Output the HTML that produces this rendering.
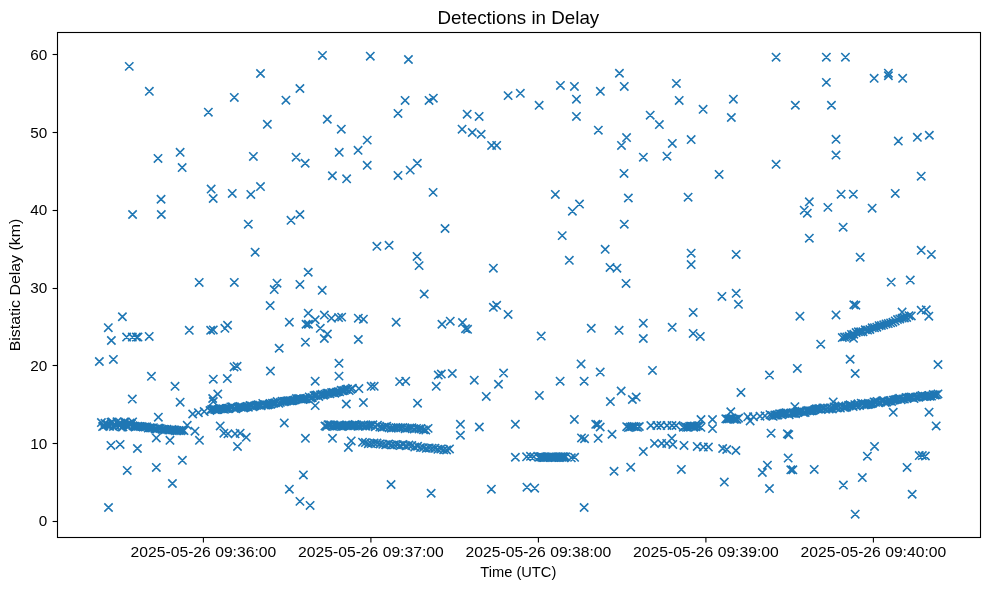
<!DOCTYPE html>
<html><head><meta charset="utf-8"><style>
html,body{margin:0;padding:0;background:#fff;}
svg{display:block;}
text{font-family:"Liberation Sans",sans-serif;fill:#000;}
.tx{will-change:transform;}
</style></head><body>
<svg width="989" height="590" viewBox="0 0 989 590">
<rect x="0" y="0" width="989" height="590" fill="#fff"/>
<path d="M125.09 62.20L133.43 70.54M125.09 70.54L133.43 62.20M145.18 87.12L153.52 95.46M145.18 95.46L153.52 87.12M256.32 69.32L264.66 77.66M256.32 77.66L264.66 69.32M230.13 93.23L238.47 101.57M230.13 101.57L238.47 93.23M204.19 107.98L212.53 116.32M204.19 116.32L212.53 107.98M281.76 96.02L290.10 104.36M281.76 104.36L290.10 96.02M295.74 84.32L304.08 92.66M295.74 92.66L304.08 84.32M263.19 120.18L271.53 128.52M263.19 128.52L271.53 120.18M153.83 154.26L162.17 162.60M153.83 162.60L162.17 154.26M175.96 148.16L184.30 156.50M175.96 156.50L184.30 148.16M177.99 163.42L186.33 171.76M177.99 171.76L186.33 163.42M249.20 152.23L257.54 160.57M249.20 160.57L257.54 152.23M291.93 152.99L300.27 161.33M291.93 161.33L300.27 152.99M318.30 51.26L326.64 59.60M318.30 59.60L326.64 51.26M366.11 52.03L374.45 60.37M366.11 60.37L374.45 52.03M404.26 55.33L412.60 63.67M404.26 63.67L412.60 55.33M400.95 96.28L409.29 104.62M400.95 104.62L409.29 96.28M424.86 96.28L433.20 104.62M424.86 104.62L433.20 96.28M429.18 93.99L437.52 102.33M429.18 102.33L437.52 93.99M393.83 109.25L402.17 117.59M393.83 117.59L402.17 109.25M323.13 115.10L331.47 123.44M323.13 123.44L331.47 115.10M337.12 125.02L345.46 133.36M337.12 133.36L345.46 125.02M363.06 135.95L371.40 144.29M363.06 144.29L371.40 135.95M353.90 146.13L362.24 154.47M353.90 154.47L362.24 146.13M335.08 148.16L343.42 156.50M335.08 156.50L343.42 148.16M301.00 159.10L309.34 167.44M301.00 167.44L309.34 159.10M363.06 161.13L371.40 169.47M363.06 169.47L371.40 161.13M328.22 171.56L336.56 179.90M328.22 179.90L336.56 171.56M342.46 174.61L350.80 182.95M342.46 182.95L350.80 174.61M393.83 171.30L402.17 179.64M393.83 179.64L402.17 171.30M406.04 165.96L414.38 174.30M406.04 174.30L414.38 165.96M413.16 159.10L421.50 167.44M413.16 167.44L421.50 159.10M503.95 91.45L512.29 99.79M503.95 99.79L512.29 91.45M516.16 89.16L524.50 97.50M516.16 97.50L524.50 89.16M534.98 101.11L543.32 109.45M534.98 109.45L543.32 101.11M463.01 110.01L471.35 118.35M463.01 118.35L471.35 110.01M474.96 112.30L483.30 120.64M474.96 120.64L483.30 112.30M457.92 125.02L466.26 133.36M457.92 133.36L466.26 125.02M468.09 128.32L476.43 136.66M468.09 136.66L476.43 128.32M476.99 130.10L485.33 138.44M476.99 138.44L485.33 130.10M487.42 141.29L495.76 149.63M487.42 149.63L495.76 141.29M492.51 141.29L500.85 149.63M492.51 149.63L500.85 141.29M556.26 81.27L564.60 89.61M556.26 89.61L564.60 81.27M570.25 82.29L578.59 90.63M570.25 90.63L578.59 82.29M572.28 95.01L580.62 103.35M572.28 103.35L580.62 95.01M572.28 112.30L580.62 120.64M572.28 120.64L580.62 112.30M596.19 87.12L604.53 95.46M596.19 95.46L604.53 87.12M615.27 69.06L623.61 77.40M615.27 77.40L623.61 69.06M620.10 82.29L628.44 90.63M620.10 90.63L628.44 82.29M594.16 126.03L602.50 134.37M594.16 134.37L602.50 126.03M622.39 133.41L630.73 141.75M622.39 141.75L630.73 133.41M617.30 141.29L625.64 149.63M617.30 149.63L625.64 141.29M639.17 152.99L647.51 161.33M639.17 161.33L647.51 152.99M619.84 169.27L628.18 177.61M619.84 177.61L628.18 169.27M646.04 111.03L654.38 119.37M646.04 119.37L654.38 111.03M655.19 120.44L663.53 128.78M655.19 128.78L663.53 120.44M672.23 79.24L680.57 87.58M672.23 87.58L680.57 79.24M675.03 96.28L683.37 104.62M675.03 104.62L683.37 96.28M668.16 139.26L676.50 147.60M668.16 147.60L676.50 139.26M662.82 151.97L671.16 160.31M662.82 160.31L671.16 151.97M686.98 135.44L695.32 143.78M686.98 143.78L695.32 135.44M698.94 105.18L707.28 113.52M698.94 113.52L707.28 105.18M729.20 95.01L737.54 103.35M729.20 103.35L737.54 95.01M727.17 113.32L735.51 121.66M727.17 121.66L735.51 113.32M714.96 170.29L723.30 178.63M714.96 178.63L723.30 170.29M771.93 53.04L780.27 61.38M771.93 61.38L780.27 53.04M771.93 160.11L780.27 168.45M771.93 168.45L780.27 160.11M822.19 53.04L830.53 61.38M822.19 61.38L830.53 53.04M841.26 53.04L849.60 61.38M841.26 61.38L849.60 53.04M822.19 78.21L830.53 86.55M822.19 86.55L830.53 78.21M791.17 101.09L799.51 109.43M791.17 109.43L799.51 101.09M827.28 101.09L835.62 109.43M827.28 109.43L835.62 101.09M869.99 74.14L878.33 82.48M869.99 82.48L878.33 74.14M884.23 69.05L892.57 77.39M884.23 77.39L892.57 69.05M884.23 71.60L892.57 79.94M884.23 79.94L892.57 71.60M898.47 74.14L906.81 82.48M898.47 82.48L906.81 74.14M831.85 135.16L840.19 143.50M831.85 143.50L840.19 135.16M831.85 150.93L840.19 159.27M831.85 159.27L840.19 150.93M894.15 136.94L902.49 145.28M894.15 145.28L902.49 136.94M913.21 133.13L921.55 141.47M913.21 141.47L921.55 133.13M925.17 131.09L933.51 139.43M925.17 139.43L933.51 131.09M917.03 172.03L925.37 180.37M917.03 180.37L925.37 172.03M156.88 195.08L165.22 203.42M156.88 203.42L165.22 195.08M128.40 210.34L136.74 218.68M128.40 218.68L136.74 210.34M157.14 210.34L165.48 218.68M157.14 218.68L165.48 210.34M206.98 184.90L215.32 193.24M206.98 193.24L215.32 184.90M209.02 194.31L217.36 202.65M209.02 202.65L217.36 194.31M228.09 189.23L236.43 197.57M228.09 197.57L236.43 189.23M246.66 190.25L255.00 198.59M246.66 198.59L255.00 190.25M256.32 182.36L264.66 190.70M256.32 190.70L264.66 182.36M244.12 220.00L252.46 228.34M244.12 228.34L252.46 220.00M286.84 216.19L295.18 224.53M286.84 224.53L295.18 216.19M295.74 210.34L304.08 218.68M295.74 218.68L304.08 210.34M250.98 247.98L259.32 256.32M250.98 256.32L259.32 247.98M195.03 278.24L203.37 286.58M195.03 286.58L203.37 278.24M230.13 278.24L238.47 286.58M230.13 286.58L238.47 278.24M272.85 279.00L281.19 287.34M272.85 287.34L281.19 279.00M270.06 285.36L278.40 293.70M270.06 293.70L278.40 285.36M295.74 280.28L304.08 288.62M295.74 288.62L304.08 280.28M265.99 301.38L274.33 309.72M265.99 309.72L274.33 301.38M118.23 312.57L126.57 320.91M118.23 320.91L126.57 312.57M428.93 188.21L437.27 196.55M428.93 196.55L437.27 188.21M440.88 224.32L449.22 232.66M440.88 232.66L449.22 224.32M372.72 242.13L381.06 250.47M372.72 250.47L381.06 242.13M384.93 241.11L393.27 249.45M384.93 249.45L393.27 241.11M412.91 252.30L421.25 260.64M412.91 260.64L421.25 252.30M414.94 261.46L423.28 269.80M414.94 269.80L423.28 261.46M489.20 264.00L497.54 272.34M489.20 272.34L497.54 264.00M304.05 268.07L312.39 276.41M304.05 276.41L312.39 268.07M318.04 286.13L326.38 294.47M318.04 294.47L326.38 286.13M420.03 289.94L428.37 298.28M420.03 298.28L428.37 289.94M489.20 303.16L497.54 311.50M489.20 311.50L497.54 303.16M492.51 301.13L500.85 309.47M492.51 309.47L500.85 301.13M503.95 310.29L512.29 318.63M503.95 318.63L512.29 310.29M304.05 309.01L312.39 317.35M304.05 317.35L312.39 309.01M551.18 190.25L559.52 198.59M551.18 198.59L559.52 190.25M575.34 199.91L583.68 208.25M575.34 208.25L583.68 199.91M568.22 207.03L576.56 215.37M568.22 215.37L576.56 207.03M624.17 193.81L632.51 202.15M624.17 202.15L632.51 193.81M683.93 193.04L692.27 201.38M683.93 201.38L692.27 193.04M620.10 220.00L628.44 228.34M620.10 228.34L628.44 220.00M558.04 231.45L566.38 239.79M558.04 239.79L566.38 231.45M601.02 245.18L609.36 253.52M601.02 253.52L609.36 245.18M565.16 256.11L573.50 264.45M565.16 264.45L573.50 256.11M605.86 263.24L614.20 271.58M605.86 271.58L614.20 263.24M612.72 264.00L621.06 272.34M612.72 272.34L621.06 264.00M621.88 279.26L630.22 287.60M621.88 287.60L630.22 279.26M686.98 248.99L695.32 257.33M686.98 257.33L695.32 248.99M686.98 260.44L695.32 268.78M686.98 268.78L695.32 260.44M732.00 250.27L740.34 258.61M732.00 258.61L740.34 250.27M717.76 292.23L726.10 300.57M717.76 300.57L726.10 292.23M732.00 289.18L740.34 297.52M732.00 297.52L740.34 289.18M734.29 300.11L742.63 308.45M734.29 308.45L742.63 300.11M689.02 308.25L697.36 316.59M689.02 316.59L697.36 308.25M805.15 197.61L813.49 205.95M805.15 205.95L813.49 197.61M800.07 206.00L808.41 214.34M800.07 214.34L808.41 206.00M803.12 209.05L811.46 217.39M803.12 217.39L811.46 209.05M823.72 203.21L832.06 211.55M823.72 211.55L832.06 203.21M836.94 189.98L845.28 198.32M836.94 198.32L845.28 189.98M849.14 189.98L857.48 198.32M849.14 198.32L857.48 189.98M891.09 189.22L899.43 197.56M891.09 197.56L899.43 189.22M867.96 203.97L876.30 212.31M867.96 212.31L876.30 203.97M838.97 223.04L847.31 231.38M838.97 231.38L847.31 223.04M805.15 233.97L813.49 242.31M805.15 242.31L813.49 233.97M856.01 253.04L864.35 261.38M856.01 261.38L864.35 253.04M917.03 246.18L925.37 254.52M917.03 254.52L925.37 246.18M927.20 250.24L935.54 258.58M927.20 258.58L935.54 250.24M887.03 277.96L895.37 286.30M887.03 286.30L895.37 277.96M906.10 275.92L914.44 284.26M906.10 284.26L914.44 275.92M849.65 300.59L857.99 308.93M849.65 308.93L857.99 300.59M851.68 301.10L860.02 309.44M851.68 309.44L860.02 301.10M795.75 312.03L804.09 320.37M795.75 320.37L804.09 312.03M831.85 310.76L840.19 319.10M831.85 319.10L840.19 310.76M917.03 306.18L925.37 314.52M917.03 314.52L925.37 306.18M922.11 305.67L930.45 314.01M922.11 314.01L930.45 305.67M924.66 312.03L933.00 320.37M924.66 320.37L933.00 312.03M104.14 323.53L112.48 331.87M104.14 331.87L112.48 323.53M107.19 336.35L115.53 344.69M107.19 344.69L115.53 336.35M122.45 332.89L130.79 341.23M122.45 341.23L130.79 332.89M128.14 332.89L136.48 341.23M128.14 341.23L136.48 332.89M132.21 332.89L140.55 341.23M132.21 341.23L140.55 332.89M133.84 332.89L142.18 341.23M133.84 341.23L142.18 332.89M145.03 332.28L153.37 340.62M145.03 340.62L153.37 332.28M95.18 357.31L103.52 365.65M95.18 365.65L103.52 357.31M109.22 355.27L117.56 363.61M109.22 363.61L117.56 355.27M185.11 326.18L193.45 334.52M185.11 334.52L193.45 326.18M206.48 326.18L214.82 334.52M206.48 334.52L214.82 326.18M209.12 325.77L217.46 334.11M209.12 334.11L217.46 325.77M220.72 324.14L229.06 332.48M220.72 332.48L229.06 324.14M223.36 321.09L231.70 329.43M223.36 329.43L231.70 321.09M147.27 372.16L155.61 380.50M147.27 380.50L155.61 372.16M128.14 394.94L136.48 403.28M128.14 403.28L136.48 394.94M170.87 382.13L179.21 390.47M170.87 390.47L179.21 382.13M175.96 398.00L184.30 406.34M175.96 406.34L184.30 398.00M154.19 413.05L162.53 421.39M154.19 421.39L162.53 413.05M209.12 375.01L217.46 383.35M209.12 383.35L217.46 375.01M223.16 374.40L231.50 382.74M223.16 382.74L231.50 374.40M229.87 362.80L238.21 371.14M229.87 371.14L238.21 362.80M232.93 362.19L241.27 370.53M232.93 370.53L241.27 362.19M213.60 389.86L221.94 398.20M213.60 398.20L221.94 389.86M208.51 394.33L216.85 402.67M208.51 402.67L216.85 394.33M209.12 397.39L217.46 405.73M209.12 405.73L217.46 397.39M183.08 421.19L191.42 429.53M183.08 429.53L191.42 421.19M216.04 421.80L224.38 430.14M216.04 430.14L224.38 421.80M106.78 441.26L115.12 449.60M106.78 449.60L115.12 441.26M115.94 440.25L124.28 448.59M115.94 448.59L124.28 440.25M133.23 444.31L141.57 452.65M133.23 452.65L141.57 444.31M123.06 466.29L131.40 474.63M123.06 474.63L131.40 466.29M152.15 463.24L160.49 471.58M152.15 471.58L160.49 463.24M152.15 433.73L160.49 442.07M152.15 442.07L160.49 433.73M165.78 436.18L174.12 444.52M165.78 444.52L174.12 436.18M178.20 456.11L186.54 464.45M178.20 464.45L186.54 456.11M168.23 479.31L176.57 487.65M168.23 487.65L176.57 479.31M104.34 503.32L112.68 511.66M104.34 511.66L112.68 503.32M190.81 427.02L199.15 435.36M190.81 435.36L199.15 427.02M195.29 436.18L203.63 444.52M195.29 444.52L203.63 436.18M219.70 429.05L228.04 437.39M219.70 437.39L228.04 429.05M223.77 429.67L232.11 438.01M223.77 438.01L232.11 429.67M230.89 429.67L239.23 438.01M230.89 438.01L239.23 429.67M235.98 429.05L244.32 437.39M235.98 437.39L244.32 429.05M242.08 433.12L250.42 441.46M242.08 441.46L250.42 433.12M233.33 442.28L241.67 450.62M233.33 450.62L241.67 442.28M285.18 318.04L293.52 326.38M285.18 326.38L293.52 318.04M301.87 320.07L310.21 328.41M301.87 328.41L310.21 320.07M304.31 320.07L312.65 328.41M304.31 328.41L312.65 320.07M311.02 315.60L319.36 323.94M311.02 323.94L319.36 315.60M320.18 310.92L328.52 319.26M320.18 319.26L328.52 310.92M327.30 313.97L335.64 322.31M327.30 322.31L335.64 313.97M334.42 313.36L342.76 321.70M334.42 321.70L342.76 313.36M337.47 312.95L345.81 321.29M337.47 321.29L345.81 312.95M316.11 324.14L324.45 332.48M316.11 332.48L324.45 324.14M323.23 329.84L331.57 338.18M323.23 338.18L331.57 329.84M320.18 334.31L328.52 342.65M320.18 342.65L328.52 334.31M301.26 337.98L309.60 346.32M301.26 346.32L309.60 337.98M275.01 344.08L283.35 352.42M275.01 352.42L283.35 344.08M354.16 313.97L362.50 322.31M354.16 322.31L362.50 313.97M359.24 314.99L367.58 323.33M359.24 323.33L367.58 314.99M354.16 335.33L362.50 343.67M354.16 343.67L362.50 335.33M392.00 318.04L400.34 326.38M392.00 326.38L400.34 318.04M437.78 320.07L446.12 328.41M437.78 328.41L446.12 320.07M334.83 359.14L343.17 367.48M334.83 367.48L343.17 359.14M334.83 371.95L343.17 380.29M334.83 380.29L343.17 371.95M266.26 366.87L274.60 375.21M266.26 375.21L274.60 366.87M311.02 377.04L319.36 385.38M311.02 385.38L319.36 377.04M366.97 382.13L375.31 390.47M366.97 390.47L375.31 382.13M370.03 382.13L378.37 390.47M370.03 390.47L378.37 382.13M395.46 377.45L403.80 385.79M395.46 385.79L403.80 377.45M401.56 377.04L409.90 385.38M401.56 385.38L409.90 377.04M434.12 370.94L442.46 379.28M434.12 379.28L442.46 370.94M437.17 369.92L445.51 378.26M437.17 378.26L445.51 369.92M432.08 382.13L440.42 390.47M432.08 390.47L440.42 382.13M311.02 401.46L319.36 409.80M311.02 409.80L319.36 401.46M342.15 399.83L350.49 408.17M342.15 408.17L350.49 399.83M359.24 398.40L367.58 406.74M359.24 406.74L367.58 398.40M413.36 399.01L421.70 407.35M413.36 407.35L421.70 399.01M280.10 418.75L288.44 427.09M280.10 427.09L288.44 418.75M301.26 434.14L309.60 442.48M301.26 442.48L309.60 434.14M328.32 434.14L336.66 442.48M328.32 442.48L336.66 434.14M347.04 436.79L355.38 445.13M347.04 445.13L355.38 436.79M344.19 443.30L352.53 451.64M344.19 451.64L352.53 443.30M299.22 470.76L307.56 479.10M299.22 479.10L307.56 470.76M285.18 485.01L293.52 493.35M285.18 493.35L293.52 485.01M295.76 497.21L304.10 505.55M295.76 505.55L304.10 497.21M305.94 501.28L314.28 509.62M305.94 509.62L314.28 501.28M386.91 480.33L395.25 488.67M386.91 488.67L395.25 480.33M426.99 489.08L435.33 497.42M426.99 497.42L435.33 489.08M446.09 317.02L454.43 325.36M446.09 325.36L454.43 317.02M458.30 318.44L466.64 326.78M458.30 326.78L466.64 318.44M461.35 324.55L469.69 332.89M461.35 332.89L469.69 324.55M463.38 325.16L471.72 333.50M463.38 333.50L471.72 325.16M537.04 331.87L545.38 340.21M537.04 340.21L545.38 331.87M587.09 324.14L595.43 332.48M587.09 332.48L595.43 324.14M614.96 326.18L623.30 334.52M614.96 334.52L623.30 326.18M448.12 369.31L456.46 377.65M448.12 377.65L456.46 369.31M470.10 376.02L478.44 384.36M470.10 384.36L478.44 376.02M499.40 368.90L507.74 377.24M499.40 377.24L507.74 368.90M494.31 380.09L502.65 388.43M494.31 388.43L502.65 380.09M482.10 392.30L490.44 400.64M482.10 400.64L490.44 392.30M535.20 391.28L543.54 399.62M535.20 399.62L543.54 391.28M555.96 377.04L564.30 385.38M555.96 385.38L564.30 377.04M576.91 359.75L585.25 368.09M576.91 368.09L585.25 359.75M596.04 367.88L604.38 376.22M596.04 376.22L604.38 367.88M579.97 377.04L588.31 385.38M579.97 385.38L588.31 377.04M616.99 386.81L625.33 395.15M616.99 395.15L625.33 386.81M606.21 397.39L614.55 405.73M606.21 405.73L614.55 397.39M628.19 395.35L636.53 403.69M628.19 403.69L636.53 395.35M456.26 420.17L464.60 428.51M456.26 428.51L464.60 420.17M475.18 422.82L483.52 431.16M475.18 431.16L483.52 422.82M511.20 420.17L519.54 428.51M511.20 428.51L519.54 420.17M570.20 415.29L578.54 423.63M570.20 423.63L578.54 415.29M591.56 420.17L599.90 428.51M591.56 428.51L599.90 420.17M596.04 422.82L604.38 431.16M596.04 431.16L604.38 422.82M456.26 431.09L464.60 439.43M456.26 439.43L464.60 431.09M511.20 453.06L519.54 461.40M511.20 461.40L519.54 453.06M487.19 485.01L495.53 493.35M487.19 493.35L495.53 485.01M522.79 482.97L531.13 491.31M522.79 491.31L531.13 482.97M530.52 483.99L538.86 492.33M530.52 492.33L538.86 483.99M579.97 503.32L588.31 511.66M579.97 511.66L588.31 503.32M593.60 420.31L601.94 428.65M593.60 428.65L601.94 420.31M577.32 433.73L585.66 442.07M577.32 442.07L585.66 433.73M580.37 434.55L588.71 442.89M580.37 442.89L588.71 434.55M594.00 434.14L602.34 442.48M594.00 442.48L602.34 434.14M607.84 430.07L616.18 438.41M607.84 438.41L616.18 430.07M609.87 467.10L618.21 475.44M609.87 475.44L618.21 467.10M626.56 463.03L634.90 471.37M626.56 471.37L634.90 463.03M639.14 319.05L647.48 327.39M639.14 327.39L647.48 319.05M639.14 334.31L647.48 342.65M639.14 342.65L647.48 334.31M668.03 323.12L676.37 331.46M668.03 331.46L676.37 323.12M688.99 329.23L697.33 337.57M688.99 337.57L697.33 329.23M696.11 332.28L704.45 340.62M696.11 340.62L704.45 332.28M816.56 340.01L824.90 348.35M816.56 348.35L824.90 340.01M648.30 366.26L656.64 374.60M648.30 374.60L656.64 366.26M736.80 388.23L745.14 396.57M736.80 396.57L745.14 388.23M765.29 370.94L773.63 379.28M765.29 379.28L773.63 370.94M793.16 364.22L801.50 372.56M793.16 372.56L801.50 364.22M632.02 392.91L640.36 401.25M632.02 401.25L640.36 392.91M726.63 407.56L734.97 415.90M726.63 415.90L734.97 407.56M745.96 416.72L754.30 425.06M745.96 425.06L754.30 416.72M790.72 402.47L799.06 410.81M790.72 410.81L799.06 402.47M650.33 439.23L658.67 447.57M650.33 447.57L658.67 439.23M657.45 439.23L665.79 447.57M657.45 447.57L665.79 439.23M662.54 439.23L670.88 447.57M662.54 447.57L670.88 439.23M668.64 440.25L676.98 448.59M668.64 448.59L676.98 440.25M667.63 434.14L675.97 442.48M667.63 442.48L675.97 434.14M679.83 441.26L688.17 449.60M679.83 449.60L688.17 441.26M693.06 442.28L701.40 450.62M693.06 450.62L701.40 442.28M699.16 442.89L707.50 451.23M699.16 451.23L707.50 442.89M704.25 442.89L712.59 451.23M704.25 451.23L712.59 442.89M718.49 444.31L726.83 452.65M718.49 452.65L726.83 444.31M722.56 445.33L730.90 453.67M722.56 453.67L730.90 445.33M731.72 446.35L740.06 454.69M731.72 454.69L740.06 446.35M639.14 447.37L647.48 455.71M639.14 455.71L647.48 447.37M677.19 465.27L685.53 473.61M677.19 473.61L685.53 465.27M720.12 477.88L728.46 486.22M720.12 486.22L728.46 477.88M766.91 429.05L775.25 437.39M766.91 437.39L775.25 429.05M783.19 429.67L791.53 438.01M783.19 438.01L791.53 429.67M784.61 430.48L792.95 438.82M784.61 438.82L792.95 430.48M763.25 461.00L771.59 469.34M763.25 469.34L771.59 461.00M758.16 468.32L766.50 476.66M758.16 476.66L766.50 468.32M784.00 453.88L792.34 462.22M784.00 462.22L792.34 453.88M786.65 465.68L794.99 474.02M786.65 474.02L794.99 465.68M788.68 465.68L797.02 474.02M788.68 474.02L797.02 465.68M810.05 465.27L818.39 473.61M810.05 473.61L818.39 465.27M765.29 484.40L773.63 492.74M765.29 492.74L773.63 484.40M845.94 355.07L854.28 363.41M845.94 363.41L854.28 355.07M851.02 369.31L859.36 377.65M851.02 377.65L859.36 369.31M933.83 360.36L942.17 368.70M933.83 368.70L942.17 360.36M829.05 397.79L837.39 406.13M829.05 406.13L837.39 397.79M889.07 408.17L897.41 416.51M889.07 416.51L897.41 408.17M924.88 407.97L933.22 416.31M924.88 416.31L933.22 407.97M932.00 421.80L940.34 430.14M932.00 430.14L940.34 421.80M839.22 480.94L847.56 489.28M839.22 489.28L847.56 480.94M858.14 473.41L866.48 481.75M858.14 481.75L866.48 473.41M863.23 452.05L871.57 460.39M863.23 460.39L871.57 452.05M870.35 442.28L878.69 450.62M870.35 450.62L878.69 442.28M851.02 510.03L859.36 518.37M851.02 518.37L859.36 510.03M902.91 463.24L911.25 471.58M902.91 471.58L911.25 463.24M907.99 490.09L916.33 498.43M907.99 498.43L916.33 490.09M915.11 451.44L923.45 459.78M915.11 459.78L923.45 451.44M918.16 451.44L926.50 459.78M918.16 459.78L926.50 451.44M921.22 451.84L929.56 460.18M921.22 460.18L929.56 451.84M849.35 334.21L857.69 342.55M849.35 342.55L857.69 334.21M97.23 418.38L105.57 426.72M97.23 426.72L105.57 418.38M98.43 422.38L106.77 430.72M98.43 430.72L106.77 422.38M99.63 421.91L107.97 430.25M99.63 430.25L107.97 421.91M100.83 419.06L109.17 427.40M100.83 427.40L109.17 419.06M102.03 420.40L110.37 428.74M102.03 428.74L110.37 420.40M103.23 420.15L111.57 428.49M103.23 428.49L111.57 420.15M104.43 421.28L112.77 429.62M104.43 429.62L112.77 421.28M105.63 422.05L113.97 430.39M105.63 430.39L113.97 422.05M106.83 418.16L115.17 426.50M106.83 426.50L115.17 418.16M108.03 417.79L116.37 426.13M108.03 426.13L116.37 417.79M109.23 422.31L117.57 430.65M109.23 430.65L117.57 422.31M110.43 420.05L118.77 428.39M110.43 428.39L118.77 420.05M111.63 421.90L119.97 430.24M111.63 430.24L119.97 421.90M112.83 417.64L121.17 425.98M112.83 425.98L121.17 417.64M114.03 420.12L122.37 428.46M114.03 428.46L122.37 420.12M115.23 421.67L123.57 430.01M115.23 430.01L123.57 421.67M116.43 418.91L124.77 427.25M116.43 427.25L124.77 418.91M117.63 422.92L125.97 431.26M117.63 431.26L125.97 422.92M118.83 422.68L127.17 431.02M118.83 431.02L127.17 422.68M120.03 417.80L128.37 426.14M120.03 426.14L128.37 417.80M121.23 417.77L129.57 426.11M121.23 426.11L129.57 417.77M122.43 420.66L130.77 429.00M122.43 429.00L130.77 420.66M123.63 422.89L131.97 431.23M123.63 431.23L131.97 422.89M124.83 419.76L133.17 428.10M124.83 428.10L133.17 419.76M126.03 418.84L134.37 427.18M126.03 427.18L134.37 418.84M127.23 419.99L135.57 428.33M127.23 428.33L135.57 419.99M128.43 417.79L136.77 426.13M128.43 426.13L136.77 417.79M128.83 421.64L137.17 429.98M128.83 429.98L137.17 421.64M130.53 422.10L138.87 430.44M130.53 430.44L138.87 422.10M132.23 422.34L140.57 430.68M132.23 430.68L140.57 422.34M133.93 422.13L142.27 430.47M133.93 430.47L142.27 422.13M135.63 422.28L143.97 430.62M135.63 430.62L143.97 422.28M137.33 422.42L145.67 430.76M137.33 430.76L145.67 422.42M139.03 422.91L147.37 431.25M139.03 431.25L147.37 422.91M140.73 422.83L149.07 431.17M140.73 431.17L149.07 422.83M142.43 422.61L150.77 430.95M142.43 430.95L150.77 422.61M144.13 423.91L152.47 432.25M144.13 432.25L152.47 423.91M145.83 423.68L154.17 432.02M145.83 432.02L154.17 423.68M147.53 423.95L155.87 432.29M147.53 432.29L155.87 423.95M149.23 423.47L157.57 431.81M149.23 431.81L157.57 423.47M150.93 424.76L159.27 433.10M150.93 433.10L159.27 424.76M152.63 424.73L160.97 433.07M152.63 433.07L160.97 424.73M154.33 423.85L162.67 432.19M154.33 432.19L162.67 423.85M156.03 424.30L164.37 432.64M156.03 432.64L164.37 424.30M157.73 425.00L166.07 433.34M157.73 433.34L166.07 425.00M159.43 425.15L167.77 433.49M159.43 433.49L167.77 425.15M161.13 425.62L169.47 433.96M161.13 433.96L169.47 425.62M162.83 425.05L171.17 433.39M162.83 433.39L171.17 425.05M164.53 425.78L172.87 434.12M164.53 434.12L172.87 425.78M166.23 425.72L174.57 434.06M166.23 434.06L174.57 425.72M167.93 425.36L176.27 433.70M167.93 433.70L176.27 425.36M169.63 425.91L177.97 434.25M169.63 434.25L177.97 425.91M171.33 426.48L179.67 434.82M171.33 434.82L179.67 426.48M173.03 426.59L181.37 434.93M173.03 434.93L181.37 426.59M174.73 426.27L183.07 434.61M174.73 434.61L183.07 426.27M176.43 426.54L184.77 434.88M176.43 434.88L184.77 426.54M178.13 425.92L186.47 434.26M178.13 434.26L186.47 425.92M179.83 426.37L188.17 434.71M179.83 434.71L188.17 426.37M188.53 409.83L196.87 418.17M188.53 418.17L196.87 409.83M194.23 408.53L202.57 416.87M194.23 416.87L202.57 408.53M200.03 407.43L208.37 415.77M200.03 415.77L208.37 407.43M205.83 406.34L214.17 414.68M205.83 414.68L214.17 406.34M207.43 405.31L215.77 413.65M207.43 413.65L215.77 405.31M209.03 404.61L217.37 412.95M209.03 412.95L217.37 404.61M210.63 405.40L218.97 413.74M210.63 413.74L218.97 405.40M212.23 405.64L220.57 413.98M212.23 413.98L220.57 405.64M213.83 405.45L222.17 413.79M213.83 413.79L222.17 405.45M215.43 404.60L223.77 412.94M215.43 412.94L223.77 404.60M217.03 404.62L225.37 412.96M217.03 412.96L225.37 404.62M218.63 404.66L226.97 413.00M218.63 413.00L226.97 404.66M220.23 405.17L228.57 413.51M220.23 413.51L228.57 405.17M221.83 404.41L230.17 412.75M221.83 412.75L230.17 404.41M223.43 403.96L231.77 412.30M223.43 412.30L231.77 403.96M225.03 404.05L233.37 412.39M225.03 412.39L233.37 404.05M226.63 402.80L234.97 411.14M226.63 411.14L234.97 402.80M228.23 402.68L236.57 411.02M228.23 411.02L236.57 402.68M229.83 404.11L238.17 412.45M229.83 412.45L238.17 404.11M231.43 404.63L239.77 412.97M231.43 412.97L239.77 404.63M233.03 403.54L241.37 411.88M233.03 411.88L241.37 403.54M234.63 402.90L242.97 411.24M234.63 411.24L242.97 402.90M236.23 402.20L244.57 410.54M236.23 410.54L244.57 402.20M237.83 402.83L246.17 411.17M237.83 411.17L246.17 402.83M239.43 403.81L247.77 412.15M239.43 412.15L247.77 403.81M241.03 403.13L249.37 411.47M241.03 411.47L249.37 403.13M242.63 402.40L250.97 410.74M242.63 410.74L250.97 402.40M244.23 403.00L252.57 411.34M244.23 411.34L252.57 403.00M245.83 401.31L254.17 409.65M245.83 409.65L254.17 401.31M247.43 401.80L255.77 410.14M247.43 410.14L255.77 401.80M249.03 402.67L257.37 411.01M249.03 411.01L257.37 402.67M250.63 401.58L258.97 409.92M250.63 409.92L258.97 401.58M252.23 401.11L260.57 409.45M252.23 409.45L260.57 401.11M253.83 400.46L262.17 408.80M253.83 408.80L262.17 400.46M255.43 400.93L263.77 409.27M255.43 409.27L263.77 400.93M257.03 401.71L265.37 410.05M257.03 410.05L265.37 401.71M258.63 399.23L266.97 407.57M258.63 407.57L266.97 399.23M260.23 400.89L268.57 409.23M260.23 409.23L268.57 400.89M261.83 400.77L270.17 409.11M261.83 409.11L270.17 400.77M263.43 400.72L271.77 409.06M263.43 409.06L271.77 400.72M265.03 400.16L273.37 408.50M265.03 408.50L273.37 400.16M266.63 400.11L274.97 408.45M266.63 408.45L274.97 400.11M268.23 399.19L276.57 407.53M268.23 407.53L276.57 399.19M269.83 399.07L278.17 407.41M269.83 407.41L278.17 399.07M271.43 398.53L279.77 406.87M271.43 406.87L279.77 398.53M273.03 397.41L281.37 405.75M273.03 405.75L281.37 397.41M274.63 399.14L282.97 407.48M274.63 407.48L282.97 399.14M276.23 398.19L284.57 406.53M276.23 406.53L284.57 398.19M277.83 397.06L286.17 405.40M277.83 405.40L286.17 397.06M279.43 397.56L287.77 405.90M279.43 405.90L287.77 397.56M281.03 397.27L289.37 405.61M281.03 405.61L289.37 397.27M282.63 396.72L290.97 405.06M282.63 405.06L290.97 396.72M284.23 396.45L292.57 404.79M284.23 404.79L292.57 396.45M285.83 396.66L294.17 405.00M285.83 405.00L294.17 396.66M287.43 396.62L295.77 404.96M287.43 404.96L295.77 396.62M289.03 396.34L297.37 404.68M289.03 404.68L297.37 396.34M290.63 395.71L298.97 404.05M290.63 404.05L298.97 395.71M292.23 394.42L300.57 402.76M292.23 402.76L300.57 394.42M293.83 394.64L302.17 402.98M293.83 402.98L302.17 394.64M295.43 394.25L303.77 402.59M295.43 402.59L303.77 394.25M297.03 394.96L305.37 403.30M297.03 403.30L305.37 394.96M298.63 395.36L306.97 403.70M298.63 403.70L306.97 395.36M300.23 394.94L308.57 403.28M300.23 403.28L308.57 394.94M301.83 394.66L310.17 403.00M301.83 403.00L310.17 394.66M303.43 394.43L311.77 402.77M303.43 402.77L311.77 394.43M305.03 392.80L313.37 401.14M305.03 401.14L313.37 392.80M306.63 393.92L314.97 402.26M306.63 402.26L314.97 393.92M308.23 393.23L316.57 401.57M308.23 401.57L316.57 393.23M309.83 391.53L318.17 399.87M309.83 399.87L318.17 391.53M311.43 391.08L319.77 399.42M311.43 399.42L319.77 391.08M313.03 390.78L321.37 399.12M313.03 399.12L321.37 390.78M314.63 392.26L322.97 400.60M314.63 400.60L322.97 392.26M316.23 390.75L324.57 399.09M316.23 399.09L324.57 390.75M317.83 390.11L326.17 398.45M317.83 398.45L326.17 390.11M319.43 391.04L327.77 399.38M319.43 399.38L327.77 391.04M321.03 390.06L329.37 398.40M321.03 398.40L329.37 390.06M322.63 389.09L330.97 397.43M322.63 397.43L330.97 389.09M324.23 388.99L332.57 397.33M324.23 397.33L332.57 388.99M325.83 389.56L334.17 397.90M325.83 397.90L334.17 389.56M327.43 388.38L335.77 396.72M327.43 396.72L335.77 388.38M329.03 388.31L337.37 396.65M329.03 396.65L337.37 388.31M330.63 389.04L338.97 397.38M330.63 397.38L338.97 389.04M332.23 388.09L340.57 396.43M332.23 396.43L340.57 388.09M333.83 387.45L342.17 395.79M333.83 395.79L342.17 387.45M335.43 387.48L343.77 395.82M335.43 395.82L343.77 387.48M337.03 386.06L345.37 394.40M337.03 394.40L345.37 386.06M338.63 386.60L346.97 394.94M338.63 394.94L346.97 386.60M340.23 386.34L348.57 394.68M340.23 394.68L348.57 386.34M341.83 385.44L350.17 393.78M341.83 393.78L350.17 385.44M343.43 384.90L351.77 393.24M343.43 393.24L351.77 384.90M345.03 386.45L353.37 394.79M345.03 394.79L353.37 386.45M346.63 385.16L354.97 393.50M346.63 393.50L354.97 385.16M348.23 384.09L356.57 392.43M348.23 392.43L356.57 384.09M354.73 384.43L363.07 392.77M354.73 392.77L363.07 384.43M320.83 421.84L329.17 430.18M320.83 430.18L329.17 421.84M322.33 422.25L330.67 430.59M322.33 430.59L330.67 422.25M323.83 420.64L332.17 428.98M323.83 428.98L332.17 420.64M325.33 420.61L333.67 428.95M325.33 428.95L333.67 420.61M326.83 420.85L335.17 429.19M326.83 429.19L335.17 420.85M328.33 421.98L336.67 430.32M328.33 430.32L336.67 421.98M329.83 420.84L338.17 429.18M329.83 429.18L338.17 420.84M331.33 421.91L339.67 430.25M331.33 430.25L339.67 421.91M332.83 421.84L341.17 430.18M332.83 430.18L341.17 421.84M334.33 421.56L342.67 429.90M334.33 429.90L342.67 421.56M335.83 420.89L344.17 429.23M335.83 429.23L344.17 420.89M337.33 422.38L345.67 430.72M337.33 430.72L345.67 422.38M338.83 422.01L347.17 430.35M338.83 430.35L347.17 422.01M340.33 421.43L348.67 429.77M340.33 429.77L348.67 421.43M341.83 420.82L350.17 429.16M341.83 429.16L350.17 420.82M343.33 421.65L351.67 429.99M343.33 429.99L351.67 421.65M344.83 421.13L353.17 429.47M344.83 429.47L353.17 421.13M346.33 421.47L354.67 429.81M346.33 429.81L354.67 421.47M347.83 420.95L356.17 429.29M347.83 429.29L356.17 420.95M349.33 421.55L357.67 429.89M349.33 429.89L357.67 421.55M350.83 420.38L359.17 428.72M350.83 428.72L359.17 420.38M352.33 420.85L360.67 429.19M352.33 429.19L360.67 420.85M353.83 422.17L362.17 430.51M353.83 430.51L362.17 422.17M355.33 421.96L363.67 430.30M355.33 430.30L363.67 421.96M356.83 420.81L365.17 429.15M356.83 429.15L365.17 420.81M358.33 421.89L366.67 430.23M358.33 430.23L366.67 421.89M359.83 420.78L368.17 429.12M359.83 429.12L368.17 420.78M361.33 422.02L369.67 430.36M361.33 430.36L369.67 422.02M361.83 421.62L370.17 429.96M361.83 429.96L370.17 421.62M364.13 421.12L372.47 429.46M364.13 429.46L372.47 421.12M366.43 420.97L374.77 429.31M366.43 429.31L374.77 420.97M368.73 420.67L377.07 429.01M368.73 429.01L377.07 420.67M371.03 422.59L379.37 430.93M371.03 430.93L379.37 422.59M373.33 421.09L381.67 429.43M373.33 429.43L381.67 421.09M375.63 422.84L383.97 431.18M375.63 431.18L383.97 422.84M377.93 423.30L386.27 431.64M377.93 431.64L386.27 423.30M380.23 422.70L388.57 431.04M380.23 431.04L388.57 422.70M382.53 422.09L390.87 430.43M382.53 430.43L390.87 422.09M384.83 423.66L393.17 432.00M384.83 432.00L393.17 423.66M387.13 424.05L395.47 432.39M387.13 432.39L395.47 424.05M389.43 423.70L397.77 432.04M389.43 432.04L397.77 423.70M391.73 423.49L400.07 431.83M391.73 431.83L400.07 423.49M394.03 423.41L402.37 431.75M394.03 431.75L402.37 423.41M396.33 423.53L404.67 431.87M396.33 431.87L404.67 423.53M398.63 423.43L406.97 431.77M398.63 431.77L406.97 423.43M400.93 424.47L409.27 432.81M400.93 432.81L409.27 424.47M403.23 424.10L411.57 432.44M403.23 432.44L411.57 424.10M405.53 423.72L413.87 432.06M405.53 432.06L413.87 423.72M407.83 423.65L416.17 431.99M407.83 431.99L416.17 423.65M410.13 424.88L418.47 433.22M410.13 433.22L418.47 424.88M412.43 424.24L420.77 432.58M412.43 432.58L420.77 424.24M414.73 424.75L423.07 433.09M414.73 433.09L423.07 424.75M417.03 424.51L425.37 432.85M417.03 432.85L425.37 424.51M419.33 425.71L427.67 434.05M419.33 434.05L427.67 425.71M421.63 425.87L429.97 434.21M421.63 434.21L429.97 425.87M423.93 424.21L432.27 432.55M423.93 432.55L432.27 424.21M358.33 437.99L366.67 446.33M358.33 446.33L366.67 437.99M361.23 438.36L369.57 446.70M361.23 446.70L369.57 438.36M364.13 439.58L372.47 447.92M364.13 447.92L372.47 439.58M367.03 439.43L375.37 447.77M367.03 447.77L375.37 439.43M369.93 438.88L378.27 447.22M369.93 447.22L378.27 438.88M372.83 438.85L381.17 447.19M372.83 447.19L381.17 438.85M375.73 439.76L384.07 448.10M375.73 448.10L384.07 439.76M378.63 440.19L386.97 448.53M378.63 448.53L386.97 440.19M381.53 440.51L389.87 448.85M381.53 448.85L389.87 440.51M384.43 439.74L392.77 448.08M384.43 448.08L392.77 439.74M387.33 440.77L395.67 449.11M387.33 449.11L395.67 440.77M390.23 440.63L398.57 448.97M390.23 448.97L398.57 440.63M393.13 440.47L401.47 448.81M393.13 448.81L401.47 440.47M396.03 441.44L404.37 449.78M396.03 449.78L404.37 441.44M398.93 440.42L407.27 448.76M398.93 448.76L407.27 440.42M401.83 441.55L410.17 449.89M401.83 449.89L410.17 441.55M404.73 440.88L413.07 449.22M404.73 449.22L413.07 440.88M407.63 441.37L415.97 449.71M407.63 449.71L415.97 441.37M410.53 442.91L418.87 451.25M410.53 451.25L418.87 442.91M413.43 442.14L421.77 450.48M413.43 450.48L421.77 442.14M416.33 443.37L424.67 451.71M416.33 451.71L424.67 443.37M419.23 443.46L427.57 451.80M419.23 451.80L427.57 443.46M422.13 444.20L430.47 452.54M422.13 452.54L430.47 444.20M425.03 443.79L433.37 452.13M425.03 452.13L433.37 443.79M427.93 443.95L436.27 452.29M427.93 452.29L436.27 443.95M430.83 444.05L439.17 452.39M430.83 452.39L439.17 444.05M433.73 445.16L442.07 453.50M433.73 453.50L442.07 445.16M436.63 444.92L444.97 453.26M436.63 453.26L444.97 444.92M439.53 445.66L447.87 454.00M439.53 454.00L447.87 445.66M442.43 445.74L450.77 454.08M442.43 454.08L450.77 445.74M445.33 444.72L453.67 453.06M445.33 453.06L453.67 444.72M522.43 452.63L530.77 460.97M522.43 460.97L530.77 452.63M526.33 452.13L534.67 460.47M526.33 460.47L534.67 452.13M529.63 452.63L537.97 460.97M529.63 460.97L537.97 452.63M534.43 453.08L542.77 461.42M534.43 461.42L542.77 453.08M535.43 452.63L543.77 460.97M535.43 460.97L543.77 452.63M536.43 452.57L544.77 460.91M536.43 460.91L544.77 452.57M537.43 452.60L545.77 460.94M537.43 460.94L545.77 452.60M538.43 453.40L546.77 461.74M538.43 461.74L546.77 453.40M539.43 453.32L547.77 461.66M539.43 461.66L547.77 453.32M540.43 453.36L548.77 461.70M540.43 461.70L548.77 453.36M541.43 452.87L549.77 461.21M541.43 461.21L549.77 452.87M542.43 453.15L550.77 461.49M542.43 461.49L550.77 453.15M543.43 453.31L551.77 461.65M543.43 461.65L551.77 453.31M544.43 452.91L552.77 461.25M544.43 461.25L552.77 452.91M545.43 453.10L553.77 461.44M545.43 461.44L553.77 453.10M546.43 452.75L554.77 461.09M546.43 461.09L554.77 452.75M547.43 452.61L555.77 460.95M547.43 460.95L555.77 452.61M548.43 452.80L556.77 461.14M548.43 461.14L556.77 452.80M549.43 453.42L557.77 461.76M549.43 461.76L557.77 453.42M550.43 453.09L558.77 461.43M550.43 461.43L558.77 453.09M551.43 453.46L559.77 461.80M551.43 461.80L559.77 453.46M552.43 452.99L560.77 461.33M552.43 461.33L560.77 452.99M553.43 452.81L561.77 461.15M553.43 461.15L561.77 452.81M554.43 453.32L562.77 461.66M554.43 461.66L562.77 453.32M555.43 453.36L563.77 461.70M555.43 461.70L563.77 453.36M556.43 452.54L564.77 460.88M556.43 460.88L564.77 452.54M557.43 453.20L565.77 461.54M557.43 461.54L565.77 453.20M558.43 452.62L566.77 460.96M558.43 460.96L566.77 452.62M559.43 452.65L567.77 460.99M559.43 460.99L567.77 452.65M560.43 453.42L568.77 461.76M560.43 461.76L568.77 453.42M561.43 452.57L569.77 460.91M561.43 460.91L569.77 452.57M567.13 453.63L575.47 461.97M567.13 461.97L575.47 453.63M570.43 453.13L578.77 461.47M570.43 461.47L578.77 453.13M622.53 422.52L630.87 430.86M622.53 430.86L630.87 422.52M624.33 423.42L632.67 431.76M624.33 431.76L632.67 423.42M626.13 422.74L634.47 431.08M626.13 431.08L634.47 422.74M627.93 422.37L636.27 430.71M627.93 430.71L636.27 422.37M629.73 422.43L638.07 430.77M629.73 430.77L638.07 422.43M631.53 422.52L639.87 430.86M631.53 430.86L639.87 422.52M633.33 423.12L641.67 431.46M633.33 431.46L641.67 423.12M635.13 422.35L643.47 430.69M635.13 430.69L643.47 422.35M646.63 421.33L654.97 429.67M646.63 429.67L654.97 421.33M652.63 421.33L660.97 429.67M652.63 429.67L660.97 421.33M656.73 421.33L665.07 429.67M656.73 429.67L665.07 421.33M662.83 421.33L671.17 429.67M662.83 429.67L671.17 421.33M667.83 421.33L676.17 429.67M667.83 429.67L676.17 421.33M671.93 421.33L680.27 429.67M671.93 429.67L680.27 421.33M679.13 423.09L687.47 431.43M679.13 431.43L687.47 423.09M680.73 422.24L689.07 430.58M680.73 430.58L689.07 422.24M682.33 423.18L690.67 431.52M682.33 431.52L690.67 423.18M683.93 423.08L692.27 431.42M683.93 431.42L692.27 423.08M685.53 422.10L693.87 430.44M685.53 430.44L693.87 422.10M687.13 422.04L695.47 430.38M687.13 430.38L695.47 422.04M688.73 422.39L697.07 430.73M688.73 430.73L697.07 422.39M690.33 421.79L698.67 430.13M690.33 430.13L698.67 421.79M691.93 422.67L700.27 431.01M691.93 431.01L700.27 422.67M693.53 421.69L701.87 430.03M693.53 430.03L701.87 421.69M695.13 421.65L703.47 429.99M695.13 429.99L703.47 421.65M696.73 423.20L705.07 431.54M696.73 431.54L705.07 423.20M696.83 415.33L705.17 423.67M696.83 423.67L705.17 415.33M708.33 415.33L716.67 423.67M708.33 423.67L716.67 415.33M708.33 424.43L716.67 432.77M708.33 432.77L716.67 424.43M721.63 414.66L729.97 423.00M721.63 423.00L729.97 414.66M723.23 414.95L731.57 423.29M723.23 423.29L731.57 414.95M724.83 414.71L733.17 423.05M724.83 423.05L733.17 414.71M726.43 414.47L734.77 422.81M726.43 422.81L734.77 414.47M728.03 414.10L736.37 422.44M728.03 422.44L736.37 414.10M729.63 415.06L737.97 423.40M729.63 423.40L737.97 415.06M731.23 415.05L739.57 423.39M731.23 423.39L739.57 415.05M732.83 414.99L741.17 423.33M732.83 423.33L741.17 414.99M734.43 413.89L742.77 422.23M734.43 422.23L742.77 413.89M743.63 412.63L751.97 420.97M743.63 420.97L751.97 412.63M749.33 412.63L757.67 420.97M749.33 420.97L757.67 412.63M755.83 412.03L764.17 420.37M755.83 420.37L764.17 412.03M760.83 411.63L769.17 419.97M760.83 419.97L769.17 411.63M765.83 410.49L774.17 418.83M765.83 418.83L774.17 410.49M767.43 411.37L775.77 419.71M767.43 419.71L775.77 411.37M769.03 412.14L777.37 420.48M769.03 420.48L777.37 412.14M770.63 410.84L778.97 419.18M770.63 419.18L778.97 410.84M772.23 411.05L780.57 419.39M772.23 419.39L780.57 411.05M773.83 410.81L782.17 419.15M773.83 419.15L782.17 410.81M775.43 409.60L783.77 417.94M775.43 417.94L783.77 409.60M777.03 410.16L785.37 418.50M777.03 418.50L785.37 410.16M778.63 409.39L786.97 417.73M778.63 417.73L786.97 409.39M780.23 409.06L788.57 417.40M780.23 417.40L788.57 409.06M781.83 408.46L790.17 416.80M781.83 416.80L790.17 408.46M783.43 408.81L791.77 417.15M783.43 417.15L791.77 408.81M785.03 410.47L793.37 418.81M785.03 418.81L793.37 410.47M786.63 408.89L794.97 417.23M786.63 417.23L794.97 408.89M788.23 409.22L796.57 417.56M788.23 417.56L796.57 409.22M789.83 409.00L798.17 417.34M789.83 417.34L798.17 409.00M791.43 409.57L799.77 417.91M791.43 417.91L799.77 409.57M793.03 407.94L801.37 416.28M793.03 416.28L801.37 407.94M794.63 407.52L802.97 415.86M794.63 415.86L802.97 407.52M796.23 407.37L804.57 415.71M796.23 415.71L804.57 407.37M797.83 407.14L806.17 415.48M797.83 415.48L806.17 407.14M799.43 408.32L807.77 416.66M799.43 416.66L807.77 408.32M801.03 408.24L809.37 416.58M801.03 416.58L809.37 408.24M802.63 406.51L810.97 414.85M802.63 414.85L810.97 406.51M804.23 406.39L812.57 414.73M804.23 414.73L812.57 406.39M805.83 406.73L814.17 415.07M805.83 415.07L814.17 406.73M807.43 406.62L815.77 414.96M807.43 414.96L815.77 406.62M809.03 406.46L817.37 414.80M809.03 414.80L817.37 406.46M810.63 405.35L818.97 413.69M810.63 413.69L818.97 405.35M812.23 404.56L820.57 412.90M812.23 412.90L820.57 404.56M813.83 404.94L822.17 413.28M813.83 413.28L822.17 404.94M815.43 404.30L823.77 412.64M815.43 412.64L823.77 404.30M817.03 405.34L825.37 413.68M817.03 413.68L825.37 405.34M818.63 403.89L826.97 412.23M818.63 412.23L826.97 403.89M820.23 403.70L828.57 412.04M820.23 412.04L828.57 403.70M821.83 404.96L830.17 413.30M821.83 413.30L830.17 404.96M823.43 403.86L831.77 412.20M823.43 412.20L831.77 403.86M825.03 404.96L833.37 413.30M825.03 413.30L833.37 404.96M826.63 403.98L834.97 412.32M826.63 412.32L834.97 403.98M828.23 404.74L836.57 413.08M828.23 413.08L836.57 404.74M829.83 402.70L838.17 411.04M829.83 411.04L838.17 402.70M831.43 403.40L839.77 411.74M831.43 411.74L839.77 403.40M833.03 403.96L841.37 412.30M833.03 412.30L841.37 403.96M834.63 401.90L842.97 410.24M834.63 410.24L842.97 401.90M836.23 403.96L844.57 412.30M836.23 412.30L844.57 403.96M837.83 401.74L846.17 410.08M837.83 410.08L846.17 401.74M839.43 403.11L847.77 411.45M839.43 411.45L847.77 403.11M841.03 403.45L849.37 411.79M841.03 411.79L849.37 403.45M842.63 402.83L850.97 411.17M842.63 411.17L850.97 402.83M844.23 401.32L852.57 409.66M844.23 409.66L852.57 401.32M845.83 400.57L854.17 408.91M845.83 408.91L854.17 400.57M847.43 401.42L855.77 409.76M847.43 409.76L855.77 401.42M849.03 402.28L857.37 410.62M849.03 410.62L857.37 402.28M850.63 400.45L858.97 408.79M850.63 408.79L858.97 400.45M852.23 401.81L860.57 410.15M852.23 410.15L860.57 401.81M853.83 399.65L862.17 407.99M853.83 407.99L862.17 399.65M855.43 401.45L863.77 409.79M855.43 409.79L863.77 401.45M857.03 398.96L865.37 407.30M857.03 407.30L865.37 398.96M858.63 399.50L866.97 407.84M858.63 407.84L866.97 399.50M860.23 400.82L868.57 409.16M860.23 409.16L868.57 400.82M861.83 400.36L870.17 408.70M861.83 408.70L870.17 400.36M863.43 400.43L871.77 408.77M863.43 408.77L871.77 400.43M865.03 400.05L873.37 408.39M865.03 408.39L873.37 400.05M866.63 399.61L874.97 407.95M866.63 407.95L874.97 399.61M868.23 399.26L876.57 407.60M868.23 407.60L876.57 399.26M869.83 397.73L878.17 406.07M869.83 406.07L878.17 397.73M871.43 398.18L879.77 406.52M871.43 406.52L879.77 398.18M873.03 397.27L881.37 405.61M873.03 405.61L881.37 397.27M874.63 398.51L882.97 406.85M874.63 406.85L882.97 398.51M876.23 398.19L884.57 406.53M876.23 406.53L884.57 398.19M877.83 396.91L886.17 405.25M877.83 405.25L886.17 396.91M879.43 396.22L887.77 404.56M879.43 404.56L887.77 396.22M881.03 398.35L889.37 406.69M881.03 406.69L889.37 398.35M882.63 397.75L890.97 406.09M882.63 406.09L890.97 397.75M884.23 396.87L892.57 405.21M884.23 405.21L892.57 396.87M885.83 396.65L894.17 404.99M885.83 404.99L894.17 396.65M887.43 397.25L895.77 405.59M887.43 405.59L895.77 397.25M889.03 396.02L897.37 404.36M889.03 404.36L897.37 396.02M890.63 395.66L898.97 404.00M890.63 404.00L898.97 395.66M892.23 395.31L900.57 403.65M892.23 403.65L900.57 395.31M893.83 394.90L902.17 403.24M893.83 403.24L902.17 394.90M895.43 394.09L903.77 402.43M895.43 402.43L903.77 394.09M897.03 395.51L905.37 403.85M897.03 403.85L905.37 395.51M898.63 394.71L906.97 403.05M898.63 403.05L906.97 394.71M900.23 394.91L908.57 403.25M900.23 403.25L908.57 394.91M901.83 393.38L910.17 401.72M901.83 401.72L910.17 393.38M903.43 393.94L911.77 402.28M903.43 402.28L911.77 393.94M905.03 393.18L913.37 401.52M905.03 401.52L913.37 393.18M906.63 392.94L914.97 401.28M906.63 401.28L914.97 392.94M908.23 393.09L916.57 401.43M908.23 401.43L916.57 393.09M909.83 394.37L918.17 402.71M909.83 402.71L918.17 394.37M911.43 393.04L919.77 401.38M911.43 401.38L919.77 393.04M913.03 392.85L921.37 401.19M913.03 401.19L921.37 392.85M914.63 393.20L922.97 401.54M914.63 401.54L922.97 393.20M916.23 392.01L924.57 400.35M916.23 400.35L924.57 392.01M917.83 391.22L926.17 399.56M917.83 399.56L926.17 391.22M919.43 392.37L927.77 400.71M919.43 400.71L927.77 392.37M921.03 392.10L929.37 400.44M921.03 400.44L929.37 392.10M922.63 392.28L930.97 400.62M922.63 400.62L930.97 392.28M924.23 391.53L932.57 399.87M924.23 399.87L932.57 391.53M925.83 391.98L934.17 400.32M925.83 400.32L934.17 391.98M927.43 391.89L935.77 400.23M927.43 400.23L935.77 391.89M929.03 390.41L937.37 398.75M929.03 398.75L937.37 390.41M930.63 390.87L938.97 399.21M930.63 399.21L938.97 390.87M932.23 390.63L940.57 398.97M932.23 398.97L940.57 390.63M933.83 389.77L942.17 398.11M933.83 398.11L942.17 389.77M838.13 333.39L846.47 341.73M838.13 341.73L846.47 333.39M840.43 332.89L848.77 341.23M840.43 341.23L848.77 332.89M842.73 332.71L851.07 341.05M842.73 341.05L851.07 332.71M845.03 331.99L853.37 340.33M845.03 340.33L853.37 331.99M847.33 330.23L855.67 338.57M847.33 338.57L855.67 330.23M849.63 330.08L857.97 338.42M849.63 338.42L857.97 330.08M851.93 328.39L860.27 336.73M851.93 336.73L860.27 328.39M854.23 327.69L862.57 336.03M854.23 336.03L862.57 327.69M856.53 327.66L864.87 336.00M856.53 336.00L864.87 327.66M858.83 327.51L867.17 335.85M858.83 335.85L867.17 327.51M861.13 325.63L869.47 333.97M861.13 333.97L869.47 325.63M863.43 325.86L871.77 334.20M863.43 334.20L871.77 325.86M865.73 325.31L874.07 333.65M865.73 333.65L874.07 325.31M868.03 323.66L876.37 332.00M868.03 332.00L876.37 323.66M870.33 323.54L878.67 331.88M870.33 331.88L878.67 323.54M872.63 323.05L880.97 331.39M872.63 331.39L880.97 323.05M874.93 321.55L883.27 329.89M874.93 329.89L883.27 321.55M877.23 321.34L885.57 329.68M877.23 329.68L885.57 321.34M879.53 320.66L887.87 329.00M879.53 329.00L887.87 320.66M881.83 319.70L890.17 328.04M881.83 328.04L890.17 319.70M884.13 319.38L892.47 327.72M884.13 327.72L892.47 319.38M886.43 318.71L894.77 327.05M886.43 327.05L894.77 318.71M888.73 318.08L897.07 326.42M888.73 326.42L897.07 318.08M891.03 316.72L899.37 325.06M891.03 325.06L899.37 316.72M893.33 315.35L901.67 323.69M893.33 323.69L901.67 315.35M895.63 314.73L903.97 323.07M895.63 323.07L903.97 314.73M897.93 313.95L906.27 322.29M897.93 322.29L906.27 313.95M900.23 313.77L908.57 322.11M900.23 322.11L908.57 313.77M902.53 313.34L910.87 321.68M902.53 321.68L910.87 313.34M904.83 311.47L913.17 319.81M904.83 319.81L913.17 311.47M907.13 311.74L915.47 320.08M907.13 320.08L915.47 311.74M897.93 307.93L906.27 316.27M897.93 316.27L906.27 307.93" fill="none" stroke="#1f77b4" stroke-width="1.6"/>
<rect x="57.5" y="32.5" width="923" height="505" fill="none" stroke="#000" stroke-width="1.11" stroke-linejoin="miter"/>
<g stroke="#000" stroke-width="1.11"><line x1="52.6" y1="521.50" x2="57.5" y2="521.50"/><line x1="52.6" y1="443.50" x2="57.5" y2="443.50"/><line x1="52.6" y1="365.50" x2="57.5" y2="365.50"/><line x1="52.6" y1="288.50" x2="57.5" y2="288.50"/><line x1="52.6" y1="210.50" x2="57.5" y2="210.50"/><line x1="52.6" y1="132.50" x2="57.5" y2="132.50"/><line x1="52.6" y1="54.50" x2="57.5" y2="54.50"/><line x1="203.40" y1="537.5" x2="203.40" y2="542.4"/><line x1="370.90" y1="537.5" x2="370.90" y2="542.4"/><line x1="538.40" y1="537.5" x2="538.40" y2="542.4"/><line x1="705.90" y1="537.5" x2="705.90" y2="542.4"/><line x1="873.40" y1="537.5" x2="873.40" y2="542.4"/></g>
<g class="tx" opacity="0.999"><g font-size="13.9"><text x="47.35" y="525.80" text-anchor="end" textLength="8.5" lengthAdjust="spacingAndGlyphs">0</text><text x="47.35" y="448.90" text-anchor="end" textLength="17.0" lengthAdjust="spacingAndGlyphs">10</text><text x="47.35" y="370.90" text-anchor="end" textLength="17.0" lengthAdjust="spacingAndGlyphs">20</text><text x="47.35" y="292.90" text-anchor="end" textLength="17.0" lengthAdjust="spacingAndGlyphs">30</text><text x="47.35" y="214.90" text-anchor="end" textLength="17.0" lengthAdjust="spacingAndGlyphs">40</text><text x="47.35" y="137.90" text-anchor="end" textLength="17.0" lengthAdjust="spacingAndGlyphs">50</text><text x="47.35" y="59.90" text-anchor="end" textLength="17.0" lengthAdjust="spacingAndGlyphs">60</text><text x="203.40" y="556.7" text-anchor="middle" textLength="145.6" lengthAdjust="spacingAndGlyphs">2025-05-26 09:36:00</text><text x="370.90" y="556.7" text-anchor="middle" textLength="145.6" lengthAdjust="spacingAndGlyphs">2025-05-26 09:37:00</text><text x="538.40" y="556.7" text-anchor="middle" textLength="145.6" lengthAdjust="spacingAndGlyphs">2025-05-26 09:38:00</text><text x="705.90" y="556.7" text-anchor="middle" textLength="145.6" lengthAdjust="spacingAndGlyphs">2025-05-26 09:39:00</text><text x="873.40" y="556.7" text-anchor="middle" textLength="145.6" lengthAdjust="spacingAndGlyphs">2025-05-26 09:40:00</text></g>
<text x="518.3" y="576.9" font-size="13.9" text-anchor="middle" textLength="76" lengthAdjust="spacingAndGlyphs">Time (UTC)</text>
<text transform="translate(20.3,285) rotate(-90)" font-size="13.9" text-anchor="middle" textLength="132.6" lengthAdjust="spacingAndGlyphs">Bistatic Delay (km)</text>
<text x="518.4" y="23.7" font-size="18.2" text-anchor="middle" textLength="161.7" lengthAdjust="spacingAndGlyphs">Detections in Delay</text></g>
</svg>
</body></html>
